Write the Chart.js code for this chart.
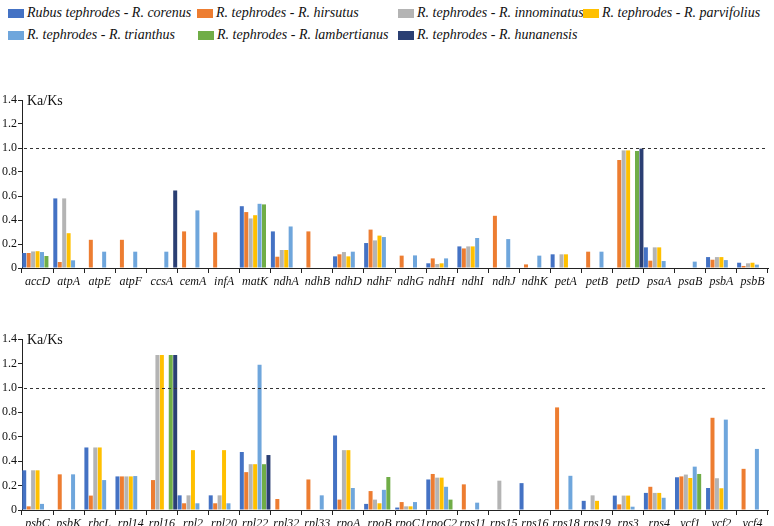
<!DOCTYPE html>
<html><head><meta charset="utf-8">
<script src="https://cdn.jsdelivr.net/npm/chart.js@4.4.1/dist/chart.umd.min.js"></script>
<style>
html,body{margin:0;padding:0;background:#fff;}
body{width:774px;height:526px;position:relative;overflow:hidden;font-family:'Liberation Serif','Times New Roman',serif;}
.lg{position:absolute;font-style:italic;font-size:14px;color:#111;white-space:nowrap;line-height:16px;}
.lg i{position:absolute;left:0;top:4px;width:16px;height:9px;}
.lg span{position:absolute;left:19px;top:0;}
.cv{position:absolute;left:0;}
</style></head><body>
<div id="legend"></div>
<div class="cv" style="top:88px;width:774px;height:210px;"><canvas id="c1" width="774" height="210"></canvas></div>
<div class="cv" style="top:327px;width:774px;height:199px;"><canvas id="c2" width="774" height="199"></canvas></div>
<script>
const seriesNames = [
  "Rubus tephrodes - R. corenus",
  "R. tephrodes - R. hirsutus",
  "R. tephrodes - R. innominatus",
  "R. tephrodes - R. parvifolius",
  "R. tephrodes - R. trianthus",
  "R. tephrodes - R. lambertianus",
  "R. tephrodes - R. hunanensis"
];
const seriesColors = ['#4472C4','#ED7D31','#B4B4B4','#FFC000','#6FA6DC','#70AD47','#2B3F73'];
const yTicks = [0,0.2,0.4,0.6,0.8,1.0,1.2,1.4];

const genesTop = ["accD","atpA","atpE","atpF","ccsA","cemA","infA","matK","ndhA","ndhB","ndhD","ndhF","ndhG","ndhH","ndhI","ndhJ","ndhK","petA","petB","petD","psaA","psaB","psbA","psbB"];
const genesBottom = ["psbC","psbK","rbcL","rpl14","rpl16","rpl2","rpl20","rpl22","rpl32","rpl33","rpoA","rpoB","rpoC1","rpoC2","rps11","rps15","rps16","rps18","rps19","rps3","rps4","ycf1","ycf2","ycf4"];

// top panel values
const corenusTop      = [0.125,0.58,null,null,null,null,null,0.515,0.305,null,0.097,0.208,null,0.039,0.18,null,null,0.114,null,null,0.172,null,0.091,0.044];
const hirsutusTop     = [0.125,0.05,0.235,0.235,null,0.305,0.297,0.466,0.094,0.305,0.114,0.32,0.103,0.08,0.163,0.435,0.03,null,0.136,0.90,0.061,null,0.069,0.017];
const innominatusTop  = [0.138,0.58,null,null,null,null,null,0.413,0.15,null,0.133,0.23,null,0.033,0.18,null,null,0.114,null,0.98,0.172,null,0.091,0.039];
const parvifoliusTop  = [0.14,0.29,null,null,null,null,null,0.44,0.15,null,0.097,0.27,null,0.039,0.18,null,null,0.114,null,0.98,0.172,null,0.091,0.044];
const trianthusTop    = [0.133,0.064,0.136,0.136,0.136,0.48,null,0.535,0.346,null,0.136,0.258,0.105,0.08,0.25,0.241,0.103,null,0.136,null,0.058,0.053,0.066,0.028];
const lambertianusTop = [0.10,null,null,null,null,null,null,0.53,null,null,null,null,null,null,null,null,null,null,null,0.975,null,null,null,null];
const hunanensisTop   = [null,null,null,null,0.646,null,null,null,null,null,null,null,null,null,null,null,null,null,null,0.995,null,null,null,null];

// bottom panel values
const corenusBottom      = [0.325,null,0.512,0.275,null,0.12,0.12,0.475,null,null,0.61,0.05,0.02,0.25,null,null,0.22,null,0.075,0.118,0.14,0.268,0.18,null];
const hirsutusBottom     = [0.03,0.292,0.118,0.275,0.245,0.055,0.055,0.31,0.09,0.25,0.085,0.155,0.065,0.295,0.21,null,null,0.84,null,0.046,0.19,0.275,0.755,0.337];
const innominatusBottom  = [0.325,null,0.512,0.275,1.27,0.12,0.12,0.375,null,null,0.49,0.085,0.03,0.265,null,0.24,null,null,0.12,0.118,0.14,0.29,0.26,null];
const parvifoliusBottom  = [0.325,null,0.512,0.275,1.27,0.49,0.49,0.375,null,null,0.49,0.055,0.03,0.265,null,null,null,null,0.075,0.118,0.14,0.262,0.178,null];
const trianthusBottom    = [0.05,0.292,0.245,0.278,null,0.055,0.055,1.19,null,0.12,0.18,0.165,0.065,0.19,0.06,null,null,0.28,null,0.027,0.10,0.355,0.74,0.50];
const lambertianusBottom = [null,null,null,null,1.27,null,null,0.375,null,null,null,0.27,null,0.085,null,null,null,null,null,null,null,0.295,null,null];
const hunanensisBottom   = [null,null,null,null,1.27,null,null,0.45,null,null,null,null,null,null,null,null,null,null,null,null,null,null,null,null];

const topSeries = [corenusTop,hirsutusTop,innominatusTop,parvifoliusTop,trianthusTop,lambertianusTop,hunanensisTop];
const bottomSeries = [corenusBottom,hirsutusBottom,innominatusBottom,parvifoliusBottom,trianthusBottom,lambertianusBottom,hunanensisBottom];

const FONT = "'Liberation Serif', 'Times New Roman', serif";

// HTML legend
const legendPos = [[8,5],[197,5],[398,5],[583,5],[8,27],[198,27],[398,27]];
const lg = document.getElementById('legend');
seriesNames.forEach((n,i)=>{
  const d = document.createElement('div');
  d.className='lg';
  d.style.left=legendPos[i][0]+'px'; d.style.top=legendPos[i][1]+'px';
  d.innerHTML='<i style="background:'+seriesColors[i]+'"></i><span>'+n+'</span>';
  lg.appendChild(d);
});

Chart.defaults.font.family=FONT;
Chart.defaults.color='#111';

const refLine = {
  id:'refLine',
  afterDatasetsDraw(chart){
    const {ctx, chartArea:a, scales:{y}} = chart;
    const py = Math.round(y.getPixelForValue(1.0))+0.5;
    ctx.save();
    ctx.strokeStyle='#333'; ctx.lineWidth=1; ctx.setLineDash([3,3]);
    ctx.beginPath(); ctx.moveTo(a.left+2,py); ctx.lineTo(a.right-3,py); ctx.stroke();
    ctx.setLineDash([]);
    ctx.fillStyle='#111'; ctx.font='14px '+FONT;
    ctx.textBaseline='middle'; ctx.textAlign='left';
    ctx.fillText('Ka/Ks', a.left+5, a.top+1);
    ctx.restore();
  }
};

function makeChart(id, labels, series, xHeight){
  return new Chart(document.getElementById(id), {
    type:'bar',
    data:{
      labels: labels,
      datasets: series.map((vals,i)=>({
        label: seriesNames[i], data: vals,
        backgroundColor: seriesColors[i], borderWidth:0,
        categoryPercentage: 1.0, barPercentage: 0.9
      }))
    },
    options:{
      responsive:false, animation:false,
      layout:{padding:{top:12,left:0,right:6,bottom:0}},
      plugins:{legend:{display:false}, tooltip:{enabled:false}},
      scales:{
        x:{
          offset:true,
          grid:{display:true, drawOnChartArea:false, tickLength:5, color:'#222', offset:true},
          border:{display:true, color:'#222', width:1},
          ticks:{font:{size:12, style:'italic', family:FONT}, color:'#111', padding:2, maxRotation:0, autoSkip:false},
          afterFit(s){ s.height = xHeight; }
        },
        y:{
          min:0, max:1.4,
          afterBuildTicks(s){ s.ticks = yTicks.map(v=>({value:v})); },
          grid:{display:true, drawOnChartArea:false, tickLength:4, color:'#222'},
          border:{display:true, color:'#222', width:1},
          ticks:{font:{size:12, family:FONT}, color:'#111', padding:1,
            callback:(v)=> v===0 ? '0' : Number(v).toFixed(1)},
          afterFit(s){ s.width = 22; }
        }
      }
    },
    plugins:[refLine]
  });
}
makeChart('c1', genesTop, topSeries, 30);
makeChart('c2', genesBottom, bottomSeries, 16);
</script>
</body></html>
